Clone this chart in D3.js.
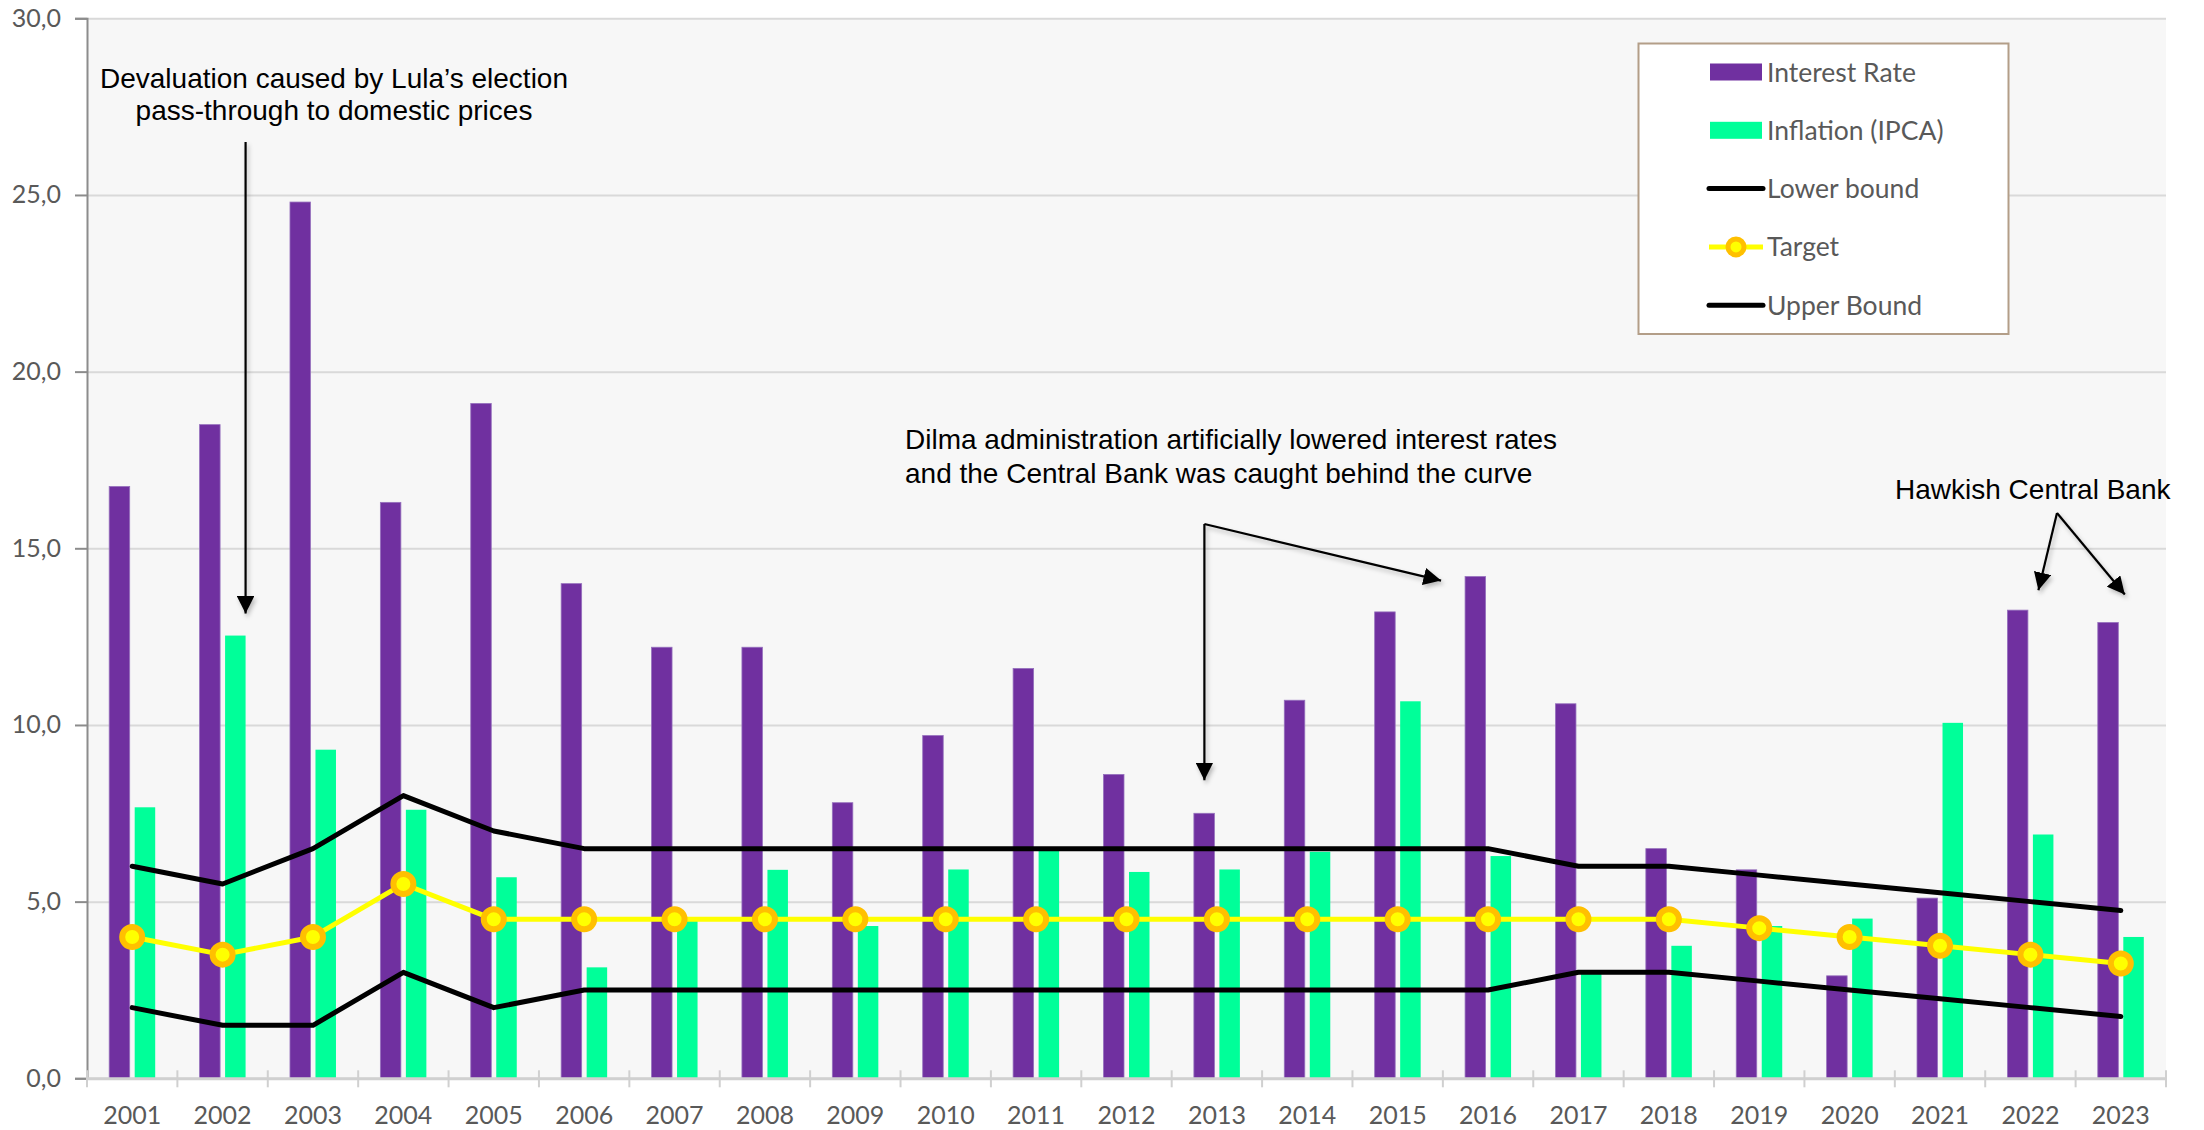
<!DOCTYPE html>
<html>
<head>
<meta charset="utf-8">
<script src="https://cdn.jsdelivr.net/npm/d3@7"></script>
<style>
  html, body { margin: 0; padding: 0; background: #ffffff; }
  svg { display: block; }
</style>
</head>
<body>
<svg id="chart" width="2204" height="1130"></svg>
<script>
// Brazil: policy interest rate vs. IPCA inflation and the inflation-target band
const years = ["2001","2002","2003","2004","2005","2006","2007","2008","2009","2010","2011","2012",
               "2013","2014","2015","2016","2017","2018","2019","2020","2021","2022","2023"];
const interestRate = [16.75, 18.5, 24.8, 16.3, 19.1, 14.0, 12.2, 12.2, 7.8, 9.7, 11.6, 8.6,
                      7.5, 10.7, 13.2, 14.2, 10.6, 6.5, 5.9, 2.9, 5.1, 13.25, 12.9];
const inflation = [7.67, 12.53, 9.30, 7.60, 5.69, 3.14, 4.46, 5.90, 4.31, 5.91, 6.50, 5.84,
                   5.91, 6.41, 10.67, 6.29, 2.95, 3.75, 4.31, 4.52, 10.06, 6.9, 4.0];
const lowerBound = [2, 1.5, 1.5, 3, 2, 2.5, 2.5, 2.5, 2.5, 2.5, 2.5, 2.5,
                    2.5, 2.5, 2.5, 2.5, 3, 3, 2.75, 2.5, 2.25, 2, 1.75];
const target = [4, 3.5, 4, 5.5, 4.5, 4.5, 4.5, 4.5, 4.5, 4.5, 4.5, 4.5,
                4.5, 4.5, 4.5, 4.5, 4.5, 4.5, 4.25, 4, 3.75, 3.5, 3.25];
const upperBound = [6, 5.5, 6.5, 8, 7, 6.5, 6.5, 6.5, 6.5, 6.5, 6.5, 6.5,
                    6.5, 6.5, 6.5, 6.5, 6, 6, 5.75, 5.5, 5.25, 5, 4.75];
const yTicks = [0, 5, 10, 15, 20, 25, 30];
const legendLabels = ["Interest Rate", "Inflation (IPCA)", "Lower bound", "Target", "Upper Bound"];

const COLORS = { rate: "#7030a0", ipca: "#00ff99", bound: "#000000", target: "#ffff00", targetRing: "#ffc000" };
const AXIS_FONT = "Lato, 'Open Sans', sans-serif";
const NOTE_FONT = "'Liberation Sans', Arial, sans-serif";

const svg = d3.select("#chart");
const plot = { left: 87, right: 2166, top: 18.3, bottom: 1078.3 };

const x = d3.scaleBand().domain(years).range([plot.left, plot.right]).paddingInner(0).paddingOuter(0);
const xSeries = d3.scaleBand().domain(["rate", "ipca"]).range([-23, 23]).paddingInner(0.196);
const y = d3.scaleLinear().domain([0, 30]).range([plot.bottom, plot.top]);
const cx = d => x(d) + x.bandwidth() / 2;

// defs: arrow heads and a soft shadow for the callouts
const defs = svg.append("defs");
defs.append("marker")
  .attr("id", "arrowHead").attr("viewBox", "0 0 10 10").attr("refX", 10).attr("refY", 5)
  .attr("markerWidth", 8).attr("markerHeight", 8).attr("markerUnits", "strokeWidth")
  .attr("orient", "auto")
  .append("path").attr("d", "M0,0 L10,5 L0,10 Z").attr("fill", "#000");
const shadow = defs.append("filter").attr("id", "softShadow")
  .attr("filterUnits", "userSpaceOnUse")
  .attr("x", 0).attr("y", 0).attr("width", 2204).attr("height", 1130);
shadow.append("feDropShadow").attr("dx", 2).attr("dy", 3).attr("stdDeviation", 2)
  .attr("flood-color", "#000").attr("flood-opacity", 0.25);

// plot background
svg.append("rect")
  .attr("x", plot.left).attr("y", plot.top)
  .attr("width", plot.right - plot.left).attr("height", plot.bottom - plot.top)
  .attr("fill", "#f7f7f7");

// horizontal gridlines
const grid = svg.append("g").attr("transform", `translate(${plot.left},0)`)
  .call(d3.axisLeft(y).tickValues(yTicks).tickSize(-(plot.right - plot.left)).tickFormat(""));
grid.select(".domain").remove();
grid.selectAll(".tick line").attr("stroke", "#d9d9d9").attr("stroke-width", 2);

// y axis
const yAxis = svg.append("g").attr("transform", `translate(${plot.left},0)`)
  .call(d3.axisLeft(y).tickValues(yTicks).tickSize(12).tickPadding(14)
    .tickFormat(d => d3.format(".1f")(d).replace(".", ",")));
yAxis.select(".domain").attr("stroke", "#8c8c8c").attr("stroke-width", 2);
yAxis.selectAll(".tick line").attr("stroke", "#8c8c8c").attr("stroke-width", 2);
yAxis.selectAll(".tick text").attr("font-family", AXIS_FONT).attr("font-size", 25).attr("fill", "#595959");

// bars
const groups = svg.append("g").selectAll("g").data(years).join("g")
  .attr("transform", d => `translate(${cx(d)},0)`);
groups.append("rect")
  .attr("x", xSeries("rate")).attr("width", xSeries.bandwidth())
  .attr("y", (d, i) => y(interestRate[i])).attr("height", (d, i) => y(0) - y(interestRate[i]))
  .attr("fill", COLORS.rate).attr("stroke", "#9671bd").attr("stroke-width", 0.8);
groups.append("rect")
  .attr("x", xSeries("ipca")).attr("width", xSeries.bandwidth())
  .attr("y", (d, i) => y(inflation[i])).attr("height", (d, i) => y(0) - y(inflation[i]))
  .attr("fill", COLORS.ipca);

// x axis: baseline, category boundary ticks and year labels
const xAxis = svg.append("g").attr("transform", `translate(0,${plot.bottom})`)
  .call(d3.axisBottom(x).tickSize(0).tickPadding(28));
xAxis.select(".domain").attr("stroke", "#d0d0d0").attr("stroke-width", 3);
xAxis.selectAll(".tick text").attr("font-family", AXIS_FONT).attr("font-size", 25).attr("fill", "#595959");
const bounds = years.map(d => x(d)).concat([plot.right]);
xAxis.append("g").selectAll("line").data(bounds).join("line")
  .attr("x1", d => d).attr("x2", d => d).attr("y1", -8).attr("y2", 9)
  .attr("stroke", "#d0d0d0").attr("stroke-width", 2);

// target band lines
const lineGen = vals => d3.line().x((d, i) => cx(years[i])).y(d => y(d))(vals);
svg.append("path").attr("d", lineGen(lowerBound)).attr("fill", "none")
  .attr("stroke", COLORS.bound).attr("stroke-width", 5).attr("stroke-linejoin", "round").attr("stroke-linecap", "round");
svg.append("path").attr("d", lineGen(upperBound)).attr("fill", "none")
  .attr("stroke", COLORS.bound).attr("stroke-width", 5).attr("stroke-linejoin", "round").attr("stroke-linecap", "round");
svg.append("path").attr("d", lineGen(target)).attr("fill", "none")
  .attr("stroke", COLORS.target).attr("stroke-width", 5).attr("stroke-linejoin", "round");
svg.append("g").selectAll("circle").data(target).join("circle")
  .attr("cx", (d, i) => cx(years[i])).attr("cy", d => y(d)).attr("r", 10)
  .attr("fill", COLORS.target).attr("stroke", COLORS.targetRing).attr("stroke-width", 6);

// callouts
const notes = svg.append("g").attr("font-family", NOTE_FONT).attr("font-size", 28).attr("fill", "#000");
const arrow = (pts) => svg.append("path")
  .attr("d", d3.line()(pts)).attr("fill", "none").attr("stroke", "#000").attr("stroke-width", 2.2)
  .attr("marker-end", "url(#arrowHead)").attr("filter", "url(#softShadow)");

// 2002: devaluation
const devalX = cx("2002") + 23;
notes.append("text").attr("x", 334).attr("y", 88).attr("text-anchor", "middle")
  .text("Devaluation caused by Lula\u2019s election");
notes.append("text").attr("x", 334).attr("y", 120).attr("text-anchor", "middle")
  .text("pass-through to domestic prices");
arrow([[devalX, 142], [devalX, y(inflation[1]) - 22]]);

// 2013-2016: Dilma
const dilmaX = cx("2013") - 12.5;
const dilmaTop = 524;
notes.append("text").attr("x", 905).attr("y", 449).text("Dilma administration artificially lowered interest rates");
notes.append("text").attr("x", 905).attr("y", 483).text("and the Central Bank was caught behind the curve");
arrow([[dilmaX, dilmaTop], [dilmaX, y(interestRate[12]) - 33]]);
arrow([[dilmaX, dilmaTop], [cx("2016") - 47, y(interestRate[15]) + 4]]);

// 2022-2023: hawkish
const hawkApex = [2057, 513];
notes.append("text").attr("x", 1895).attr("y", 499).text("Hawkish Central Bank");
arrow([hawkApex, [cx("2022") + 8, y(interestRate[21]) - 20]]);
arrow([hawkApex, [cx("2023") + 4, y(interestRate[22]) - 28]]);

// legend
const legend = svg.append("g");
legend.append("rect").attr("x", 1638.5).attr("y", 43.5).attr("width", 370).attr("height", 290.5)
  .attr("fill", "#ffffff").attr("stroke", "#b39e88").attr("stroke-width", 2);
const rowY = i => 72 + i * 58.3;
const swX0 = 1709, swX1 = 1763;
legend.append("rect").attr("x", 1710).attr("y", rowY(0) - 8.5).attr("width", 52).attr("height", 17).attr("fill", COLORS.rate);
legend.append("rect").attr("x", 1710).attr("y", rowY(1) - 8.5).attr("width", 52).attr("height", 17).attr("fill", COLORS.ipca);
[2, 4].forEach(i => legend.append("line").attr("x1", swX0).attr("x2", swX1).attr("y1", rowY(i)).attr("y2", rowY(i))
  .attr("stroke", COLORS.bound).attr("stroke-width", 5).attr("stroke-linecap", "round"));
legend.append("line").attr("x1", swX0).attr("x2", swX1).attr("y1", rowY(3)).attr("y2", rowY(3))
  .attr("stroke", COLORS.target).attr("stroke-width", 5);
legend.append("circle").attr("cx", (swX0 + swX1) / 2).attr("cy", rowY(3)).attr("r", 8)
  .attr("fill", COLORS.target).attr("stroke", COLORS.targetRing).attr("stroke-width", 5);
legend.selectAll("text.lbl").data(legendLabels).join("text").attr("class", "lbl")
  .attr("x", 1767).attr("y", (d, i) => rowY(i)).attr("dy", "0.36em")
  .attr("font-family", AXIS_FONT).attr("font-size", 26.5).attr("fill", "#595959")
  .text(d => d);
</script>
</body>
</html>
